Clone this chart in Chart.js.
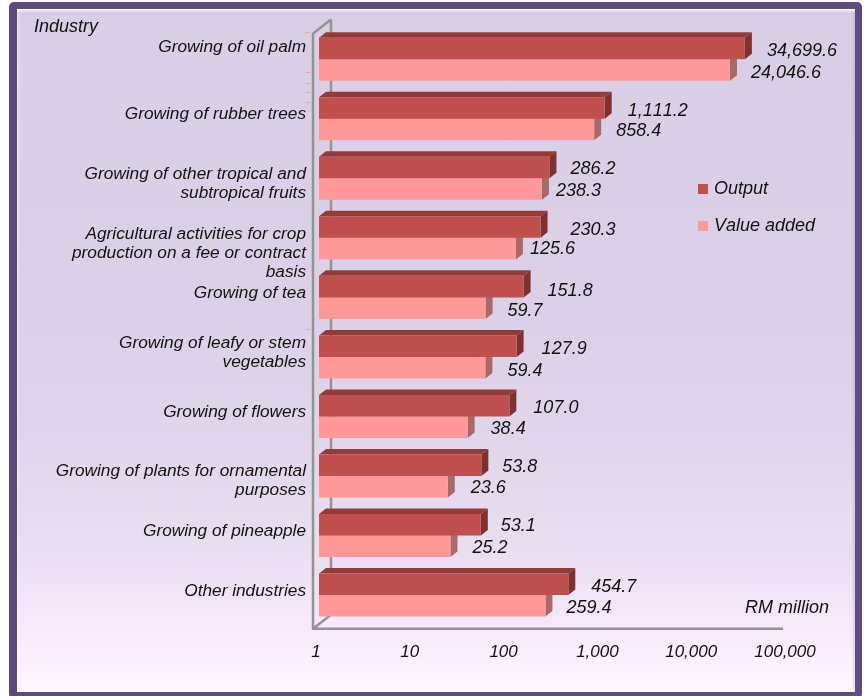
<!DOCTYPE html>
<html>
<head>
<meta charset="utf-8">
<script src="https://cdn.jsdelivr.net/npm/chart.js@4"></script>
<style>
  html, body { margin: 0; height: 100%; background: #fff; overflow: hidden; }
  #frame {
    position: absolute; left: 9px; top: 2px; width: 853px; height: 697px;
    box-sizing: border-box; border: solid #5f4b7b; border-width: 7px 7px 7px 8px; border-radius: 5px;
    background: linear-gradient(#dacee6 0%, #dcd0e8 44%, #e2d6ec 65%, #ebdff1 81%, #f7e8fa 90%, #fdf5ff 98%);
    box-shadow: inset 0 3px 2px -1px rgba(255,255,255,.8), inset 3px 0 2px -1px rgba(255,255,255,.35),
      inset -3px 0 2px -1px rgba(120,100,140,.18), inset 0 -3px 2px -1px rgba(255,255,255,.8);
  }
  #chart { position: absolute; left: 0; top: 0; }
</style>
</head>
<body>
<div id="frame"></div>
<canvas id="chart" width="864" height="696"></canvas>
<script>
const categories = [
  'Growing of oil palm',
  'Growing of rubber trees',
  ['Growing of other tropical and', 'subtropical fruits'],
  ['Agricultural activities for crop', 'production on a fee or contract', 'basis'],
  'Growing of tea',
  ['Growing of leafy or stem', 'vegetables'],
  'Growing of flowers',
  ['Growing of plants for ornamental', 'purposes'],
  'Growing of pineapple',
  'Other industries'
];
const output = [34699.6, 1111.2, 286.2, 230.3, 151.8, 127.9, 107.0, 53.8, 53.1, 454.7];
const valueAdded = [24046.6, 858.4, 238.3, 125.6, 59.7, 59.4, 38.4, 23.6, 25.2, 259.4];
const xTicks = [1, 10, 100, 1000, 10000, 100000];

// the original nudges its labels around by hand, these are px offsets
const labelNudge = [-12, -5, 5, 15, -4, -4, -4, 5, -4, -4];
const valueDx = [
  [22, 23, 21, 30, 24, 25, 24, 21, 20, 23],
  [21, 22, 14, 14, 22, 22, 23, 23, 22, 21]
];
const valueDy = [
  [2, 3, 1, 3, 4, 3, 2, 2, 1, 3],
  [3, 1, 2, 0, 3, 3, 2, 1, 2, 2]
];

const DEPTH_X = 7, DEPTH_Y = 5.5;
const FONT = 'italic 18px "Liberation Sans", Arial, sans-serif';
const faces = [
  { front: '#c0504d', top: '#933b39', side: '#7d3230' },
  { front: '#ff9999', top: '#c07070', side: '#ab6868' }
];

function fmt(v) {
  return v.toLocaleString('en-US', { minimumFractionDigits: 1, maximumFractionDigits: 1 });
}

// box walls and bar depth, Chart.js has no 3D bars
const depthPlugin = {
  id: 'depth',
  beforeDatasetsDraw(chart) {
    const { left, right, top, bottom } = chart.chartArea;
    const ctx = chart.ctx;
    const x0 = left - 6, y0 = bottom + 4;
    ctx.save();
    ctx.strokeStyle = '#939393';
    ctx.lineWidth = 2.5;
    ctx.beginPath();
    ctx.moveTo(x0 + 18, top - 10); ctx.lineTo(x0 + 18, y0 - 14);
    ctx.moveTo(x0 + 18, top - 10); ctx.lineTo(x0, top + 4);
    ctx.lineTo(x0, y0); ctx.lineTo(right - 5, y0);
    ctx.moveTo(x0, y0); ctx.lineTo(x0 + 18, y0 - 14);
    ctx.stroke();
    // stray pink specks left of the axis in the original
    ctx.fillStyle = '#eda6a6';
    [32, 72, 83, 92, 102, 329].forEach(y => ctx.fillRect(left - 14, y, 5, 1));
    // value added first, output sits on top of it
    [1, 0].forEach(d => {
      chart.getDatasetMeta(d).data.forEach(bar => {
        const h = bar.height, yt = bar.y - h / 2, xl = bar.base, xr = bar.x;
        ctx.fillStyle = faces[d].top;
        ctx.beginPath();
        ctx.moveTo(xl, yt); ctx.lineTo(xl + DEPTH_X, yt - DEPTH_Y);
        ctx.lineTo(xr + DEPTH_X, yt - DEPTH_Y); ctx.lineTo(xr, yt);
        ctx.fill();
        ctx.fillStyle = faces[d].side;
        ctx.beginPath();
        ctx.moveTo(xr, yt); ctx.lineTo(xr + DEPTH_X, yt - DEPTH_Y);
        ctx.lineTo(xr + DEPTH_X, yt + h - DEPTH_Y); ctx.lineTo(xr, yt + h);
        ctx.fill();
      });
    });
    ctx.restore();
  },
  afterDatasetsDraw(chart) {
    const ctx = chart.ctx;
    ctx.save();
    ctx.font = FONT;
    ctx.fontKerning = 'none';
    ctx.fillStyle = '#111';
    ctx.textBaseline = 'middle';
    chart.data.datasets.forEach((ds, d) => {
      chart.getDatasetMeta(d).data.forEach((bar, i) => {
        ctx.fillText(fmt(ds.data[i]), bar.x + valueDx[d][i], bar.y + valueDy[d][i]);
      });
    });
    // legend
    chart.data.datasets.forEach((ds, d) => {
      const y = 189 + d * 37;
      ctx.fillStyle = ds.backgroundColor;
      ctx.fillRect(698, y - 5, 10, 10);
      ctx.fillStyle = '#111';
      ctx.fillText(ds.label, 714, y);
    });
    ctx.fillText('Industry', 34, 27);
    ctx.fillText('RM million', 745, 608);
    ctx.restore();
  },
  beforeDraw(chart) {
    chart.scales.y.getLabelItems(chart.chartArea).forEach((item, i) => {
      if (item.nudged) return;
      item.options.translation[1] += labelNudge[i];
      item.nudged = true;
    });
  }
};

new Chart(document.getElementById('chart'), {
  type: 'bar',
  data: {
    labels: categories,
    datasets: [
      { label: 'Output', data: output, backgroundColor: '#c0504d' },
      { label: 'Value added', data: valueAdded, backgroundColor: '#ff9999' }
    ]
  },
  plugins: [depthPlugin],
  options: {
    indexAxis: 'y',
    responsive: false,
    animation: false,
    categoryPercentage: 0.723,
    barPercentage: 1,
    layout: { padding: { top: 29.5, right: 76 } },
    plugins: { legend: { display: false }, tooltip: { enabled: false } },
    scales: {
      x: {
        type: 'logarithmic',
        min: 1,
        max: 100000,
        grid: { display: false },
        border: { display: false },
        afterBuildTicks(axis) { axis.ticks = xTicks.map(value => ({ value, major: true })); },
        afterFit(axis) { axis.height = 71.2; },
        ticks: {
          color: '#111',
          font: { family: '"Liberation Sans", Arial, sans-serif', size: 17, style: 'italic' },
          padding: 9,
          labelOffset: -3,
          maxRotation: 0,
          autoSkip: false,
          callback: v => Number(v).toLocaleString('en-US')
        }
      },
      y: {
        grid: { display: false },
        border: { display: false },
        afterFit(axis) { axis.width = 319; },
        ticks: {
          color: '#111',
          font: { family: '"Liberation Sans", Arial, sans-serif', size: 17.25, style: 'italic', lineHeight: 1.1 },
          padding: 5,
          autoSkip: false
        }
      }
    }
  }
});
</script>
</body>
</html>
